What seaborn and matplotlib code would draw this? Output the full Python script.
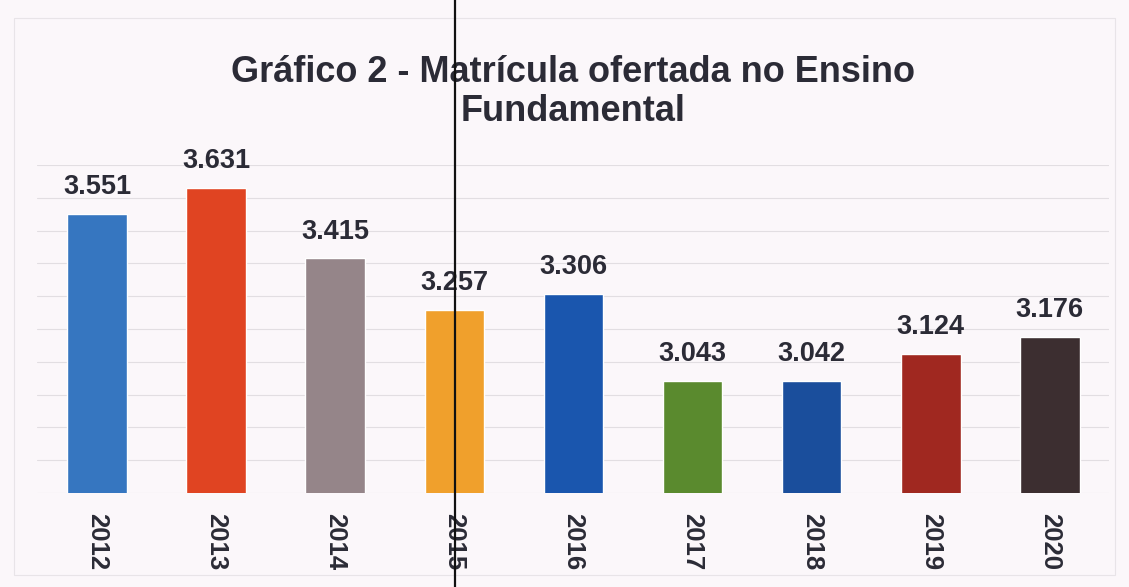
import matplotlib
matplotlib.use("Agg")
import matplotlib.pyplot as plt
import seaborn as sns
import pandas as pd
from matplotlib.lines import Line2D
from matplotlib.patches import Rectangle

# Data (matrículas, in thousands)
years = ["2012", "2013", "2014", "2015", "2016", "2017", "2018", "2019", "2020"]
enrolments = [3.551, 3.631, 3.415, 3.257, 3.306, 3.043, 3.042, 3.124, 3.176]
bar_colors = ["#3676C0", "#E04422", "#958589", "#F0A02C", "#1A56AE",
              "#5A8A2E", "#1A4E9C", "#A02820", "#3C2E30"]

df = pd.DataFrame({"Ano": years, "Matriculas": enrolments})

sns.set_style("white")
plt.rcParams["font.family"] = ["Liberation Sans", "DejaVu Sans"]

bg = "#FBF7FA"
text_color = "#2B2B36"

fig = plt.figure(figsize=(11.29, 5.87), dpi=100, facecolor=bg)
ax = fig.add_axes([0.0332, 0.160, 0.9495, 0.559])
ax.set_facecolor(bg)

sns.barplot(data=df, x="Ano", y="Matriculas", hue="Ano", palette=bar_colors,
            width=0.5, legend=False, saturation=1, ax=ax, zorder=2)

for cont in ax.containers:
    ax.bar_label(cont, fmt="{:.3f}", padding=10, fontsize=19.5,
                 fontweight="bold", color=text_color, clip_on=False)

ax.set_ylim(2.7, 3.7)
ax.set_yticks([2.7 + 0.1 * i for i in range(11)])
ax.set_yticklabels([])
ax.grid(axis="y", color="#E2DEE2", linewidth=0.8, zorder=0)
ax.set_axisbelow(True)
for s in ax.spines.values():
    s.set_visible(False)

ax.tick_params(axis="x", length=0, pad=14)
ax.tick_params(axis="y", length=0)
for lbl in ax.get_xticklabels():
    lbl.set_rotation(-90)
    lbl.set_fontsize(18.5)
    lbl.set_fontweight("bold")
    lbl.set_color(text_color)
    lbl.set_va("top")
    lbl.set_ha("center")

ax.set_xlabel("")
ax.set_ylabel("")

ax.set_title("Gráfico 2 - Matrícula ofertada no Ensino\nFundamental",
             fontsize=26, fontweight="bold", color=text_color,
             linespacing=1.12, pad=32)

# faint chart border and the black line from the scan
fig.add_artist(Rectangle((0.012, 0.02), 0.976, 0.95, transform=fig.transFigure,
                         fill=False, edgecolor="#E8E4E8", linewidth=0.8))
fig.add_artist(Line2D([455 / 1129, 455 / 1129], [0, 1], transform=fig.transFigure,
                      color="#111111", linewidth=1.6))

fig.savefig("out.png", dpi=100, facecolor=bg)
